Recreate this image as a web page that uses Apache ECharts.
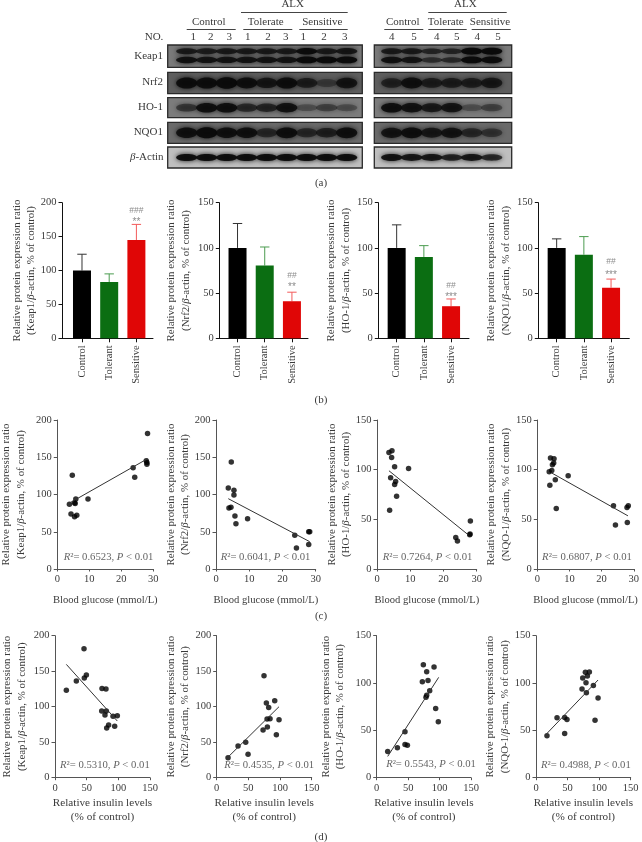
<!DOCTYPE html>
<html><head><meta charset="utf-8">
<style>html,body{margin:0;padding:0;background:#fff}#c{width:642px;height:842px}</style>
<script src="https://cdn.jsdelivr.net/npm/echarts@6/dist/echarts.min.js"></script>
</head><body><div id="c"></div>
<script>
// ---------- data ----------
const barCategories = ['Control','Tolerant','Sensitive'];
const barColors = ['#000000','#0b6e12','#e00606'];
const errColors = ['#333333','#4c9c50','#f25a5a'];
const keap1Bars=[100,83,145], keap1Err=[124,95,168];
const nrf2Bars=[100,80.5,41], nrf2Err=[127,101,51];
const ho1Bars=[100,90,35.5], ho1Err=[125.5,102.5,43.5];
const nqo1Bars=[100,92.5,56], nqo1Err=[110,112.5,65.5];
const keap1Marks=[['###',189],['**',175]];
const nrf2Marks=[['##',69],['**',59.7]];
const ho1Marks=[['##',58],['***',48.7]];
const nqo1Marks=[['##',85],['***',73]];

const glucoseKeap1=[[3.8,86.8],[4.3,73.8],[4.7,125.7],[5.4,89],[5.4,70],[5.8,94],[5.6,88],[6.1,72],[9.6,94],[23.7,136],[24.2,123],[27.8,145.4],[28,140.5],[28,143],[28.2,182]];
const glucoseNrf2=[[3.7,108.7],[3.9,81.9],[4.5,82.8],[4.6,143.6],[5.4,105.6],[5.4,99.3],[5.7,71],[6,60.9],[9.5,67.6],[23.7,45.2],[24.2,28.2],[27.9,33],[27.9,50],[28.2,50]];
const glucoseHo1=[[3.6,117.4],[4.5,119],[4.4,112.3],[4.1,91.8],[3.8,59.2],[5.3,102.9],[5.6,88.1],[5.3,85.1],[5.9,73.3],[9.5,101.2],[23.7,31.6],[24.2,28.3],[27.9,34.6],[28.1,48.4],[28,35.3]];
const glucoseNqo1=[[3.7,97.9],[3.9,84.4],[4.1,111.7],[4.5,99.2],[4.7,104.9],[5.2,111],[5.1,106.6],[5.6,89.8],[5.9,60.9],[9.6,93.8],[23.7,63.6],[24.3,44.4],[28,46.8],[27.9,61.9],[28.3,63.6]];
const glucoseFits=[[[3.8,88.5],[28.2,148]],[[3.7,94.4],[28.2,36.7]],[[3.6,98.9],[27.5,34.3]],[[4.3,97],[28.2,53.5]]];
const glucoseStats=['0.6523','0.6041','0.7264','0.6807'];

const insulinKeap1=[[17.9,123],[33.7,136.2],[45.8,181.7],[46.3,140.4],[49.5,144.6],[74.2,125.8],[80.5,124.9],[73.7,93.9],[81,93.9],[78.9,88.3],[91.6,86.4],[98.4,87.3],[81.6,70],[84.7,74.2],[94.2,72.3]];
const insulinNrf2=[[17.9,28.2],[33.7,44.6],[45.8,49.8],[49.5,32.9],[74.7,143.7],[78.4,105.2],[82.1,99],[91.6,108.5],[79.5,82.6],[84.2,83.1],[98.4,81.7],[73.2,67.1],[80,71.4],[94.2,60.6]];
const insulinHo1=[[17.5,27.8],[32.9,31.7],[45,48.6],[45,35.2],[48.8,34.2],[72.6,101.4],[74.2,119.4],[79.5,112],[81.6,102.8],[91.2,116.9],[78.4,84.9],[79.5,87],[84.3,91.9],[93.8,73.2],[98,59.2]];
const insulinNqo1=[[17.4,44.4],[33.3,63.4],[45.4,46.8],[45.4,63.7],[49.1,61.6],[72.9,93.7],[74,105.3],[78.2,111.3],[79.2,100.4],[79.8,89.8],[81.4,107.4],[84.5,111.6],[90.9,97.5],[93.5,60.6],[98.3,84.2]];
const insulinFits=[[[17.9,159.6],[98.4,79.8]],[[17.9,29],[98.4,100]],[[17.5,22.5],[98.6,106]],[[17.4,46.8],[98.3,103.2]]];
const insulinStats=['0.5310','0.4535','0.5543','0.4988'];

const blotRows=['Keap1','Nrf2','HO-1','NQO1'];
const laneHeaders=['1','2','3','1','2','3','1','2','3'];
const laneHeadersRight=['4','5','4','5','4','5'];
const leftKeap1Upper=[.75,.7,.75,.75,.75,.75,.95,.75,.8], leftKeap1Lower=[.88,.82,.82,.82,.82,.82,1,1,1];
const leftNrf2=[.9,.9,.98,.85,.72,.9,.6,.25,.78], leftHo1=[.42,.9,.9,.55,.6,.85,.2,.32,.22];
const leftNqo1=[.85,.98,.85,.85,.5,.9,.5,.6,.9], leftActin=[.95,.95,.95,.95,.95,.95,.95,.95,.95];
const rightKeap1Upper=[.75,.75,.6,.6,1,1], rightKeap1Lower=[.88,.82,.5,.55,1,.95];
const rightNrf2=[.55,.85,.6,.6,.6,.7], rightHo1=[.9,.85,.72,.8,.2,.32];
const rightNqo1=[.8,.9,.72,.8,.5,.38], rightActin=[.9,.85,.85,.75,.85,.7];

// ---------- helpers ----------
const FONT='"Liberation Serif",serif', INK='#3a3a3a';
const grids=[],xAxes=[],yAxes=[],series=[],graphic=[];
function addGrid(g,x,y){grids.push(g);x.gridIndex=y.gridIndex=grids.length-1;xAxes.push(x);yAxes.push(y);return grids.length-1;}
const nameRich={n:{fontFamily:FONT,fontSize:10.9,color:INK,lineHeight:14.5},i:{fontFamily:FONT,fontStyle:'italic',fontSize:10.9,color:INK,lineHeight:14.5}};
const yName=t=>`{n|Relative protein expression ratio}\n{n|(${t}/}{i|β}{n|-actin, % of control)}`;
const lbl={fontFamily:FONT,fontSize:10.5,color:INK};
function yAxisOf(max,name,gap,col){return {type:'value',min:0,max,interval:50,name:yName(name),nameLocation:'middle',nameGap:gap,
  nameTextStyle:{rich:nameRich},axisLine:{show:true,onZero:false,lineStyle:{color:col,width:1}},axisTick:{show:true,length:3.5,lineStyle:{color:col,width:1}},
  axisLabel:{...lbl,margin:5.5},splitLine:{show:false}};}

function barPanel(left,width,min,max,ymax,target,gap,vals,errs,marks){
  const i=addGrid({left,top:202.7,width,height:135.6},
   {type:'value',min,max:min+width/27.2,axisLine:{show:true,onZero:false,lineStyle:{color:'#111',width:1}},axisTick:{show:true,length:4,customValues:[0,1,2],lineStyle:{color:'#111'}},
    axisLabel:{...lbl,rotate:90,margin:7,customValues:[0,1,2],formatter:v=>barCategories[v]||''},splitLine:{show:false}},
   yAxisOf(ymax,target,gap,'#111'));
  series.push({type:'bar',xAxisIndex:i,yAxisIndex:i,barWidth:18,data:vals.map((v,k)=>({value:[k,v],itemStyle:{color:barColors[k]}})),silent:true,animation:false});
  series.push({type:'custom',xAxisIndex:i,yAxisIndex:i,data:vals.map((v,k)=>[k,v,errs[k]]),animation:false,silent:true,
    renderItem(p,api){const k=api.value(0),a=api.coord([k,api.value(1)]),b=api.coord([k,api.value(2)]);
      const st={stroke:errColors[k],lineWidth:1,fill:null};
      return {type:'group',children:[{type:'line',shape:{x1:a[0],y1:a[1],x2:b[0],y2:b[1]},style:st},{type:'line',shape:{x1:b[0]-4.7,y1:b[1],x2:b[0]+4.7,y2:b[1]},style:st}]};}});
  series.push({type:'scatter',xAxisIndex:i,yAxisIndex:i,symbolSize:0,silent:true,animation:false,
    data:marks.map(m=>({value:[2,m[1]],label:{show:true,position:'inside',formatter:m[0],offset:m[0][0]==='*'?[0,2.5]:[0,0],fontFamily:'"Liberation Sans",sans-serif',fontSize:m[0][0]==='*'?10:8.5,color:'#6e6e6e'}}))});
}
barPanel(62,91,-0.735,0,200,'Keap1',23,keap1Bars,keap1Err,keap1Marks);
barPanel(219.3,88.7,-0.67,0,150,'Nrf2',26,nrf2Bars,nrf2Err,nrf2Marks);
barPanel(378.3,90.7,-0.675,0,150,'HO-1',25,ho1Bars,ho1Err,ho1Marks);
barPanel(538.3,91,-0.675,0,150,'NQO1',25,nqo1Bars,nqo1Err,nqo1Marks);

function scatterPanel(left,width,top,height,xmax,xint,ymax,target,gap,pts,fit,stat,statAt,xname,nameGap,nameSize){
  const i=addGrid({left,top,width,height},
    {type:'value',min:0,max:xmax,interval:xint,name:xname,nameLocation:'middle',nameGap,nameTextStyle:{...lbl,fontSize:nameSize,lineHeight:14},
     axisLine:{show:true,onZero:false,lineStyle:{color:'#555'}},axisTick:{show:true,length:2.5,lineStyle:{color:'#555'}},axisLabel:{...lbl,margin:5},splitLine:{show:false}},
    yAxisOf(ymax,target,gap,'#555'));
  series.push({type:'line',xAxisIndex:i,yAxisIndex:i,data:fit,showSymbol:false,silent:true,animation:false,lineStyle:{color:'#333',width:1},symbol:'none'});
  series.push({type:'scatter',xAxisIndex:i,yAxisIndex:i,data:pts,symbolSize:5.5,silent:true,animation:false,itemStyle:{color:'#000'}});
  series.push({type:'scatter',xAxisIndex:i,yAxisIndex:i,symbolSize:0,silent:true,animation:false,data:[{value:statAt,label:{show:true,position:'right',distance:0,
    formatter:`{i|R}{n|²= ${stat}, }{i|P}{n| < 0.01}`,rich:{n:{fontFamily:FONT,fontSize:10.7,color:INK},i:{fontFamily:FONT,fontSize:10.7,fontStyle:'italic',color:INK}}}}]});
}
const GN='Blood glucose (mmol/L)', IN='Relative insulin levels\n(% of control)';
scatterPanel(53.3,100,420,149,30,10,200,'Keap1',29,glucoseKeap1,glucoseFits[0],glucoseStats[0],[2,15.7],GN,24,10.6);
scatterPanel(216,99.7,420,149,30,10,200,'Nrf2',22,glucoseNrf2,glucoseFits[1],glucoseStats[1],[1.4,15.7],GN,24,10.6);
scatterPanel(377,99.7,420,149,30,10,150,'HO-1',23,glucoseHo1,glucoseFits[2],glucoseStats[2],[1.7,11.8],GN,24,10.6);
scatterPanel(537.3,99.3,420,149,30,10,150,'NQO-1',24,glucoseNqo1,glucoseFits[3],glucoseStats[3],[1.5,11.8],GN,24,10.6);
scatterPanel(55,95,635.7,142,150,50,200,'Keap1',26,insulinKeap1,insulinFits[0],insulinStats[0],[7.9,17],IN,18,11.2);
scatterPanel(216.7,95,635.7,142,150,50,200,'Nrf2',24,insulinNrf2,insulinFits[1],insulinStats[1],[12,17],IN,18,11.2);
scatterPanel(376.7,94.3,635.7,142,150,50,150,'HO-1',29,insulinHo1,insulinFits[2],insulinStats[2],[15,14.4],IN,18,11.2);
scatterPanel(536,94.7,635.7,142,150,50,150,'NQO-1',24,insulinNqo1,insulinFits[3],insulinStats[3],[7.9,12.7],IN,18,11.2);

function blotPanel(left,width,top,height,min,bg,bands,ry){
  const i=addGrid({show:true,left,top,width,height,backgroundColor:bg,borderColor:'#2a2a2a',borderWidth:1.3},
    {type:'value',show:false,min,max:min+width/20},{type:'value',show:false,min:0,max:1});
  bands.forEach(([vals,yPos])=>{
    series.push({type:'custom',xAxisIndex:i,yAxisIndex:i,silent:true,animation:false,clip:true,data:vals.map((v,k)=>[k,yPos,v]),
      renderItem(p,api){const c=api.coord([api.value(0),api.value(1)]),v=api.value(2);
        return {type:'ellipse',shape:{cx:c[0],cy:c[1],rx:10.6,ry:ry*(0.6+0.4*v)},
          style:{fill:'#0a0a0a',opacity:0.12+0.85*v,shadowBlur:5,shadowColor:'rgba(0,0,0,0.9)'}};}});
  });
}
const L=[167.7,194.6,-0.95], R=[374.3,137.4,-0.87];
[[L,leftKeap1Upper,leftKeap1Lower,leftNrf2,leftHo1,leftNqo1,leftActin],[R,rightKeap1Upper,rightKeap1Lower,rightNrf2,rightHo1,rightNqo1,rightActin]].forEach(([s,ku,kl,n,h,q,a])=>{
  blotPanel(s[0],s[1],45,22.3,s[2],'#7a7a7a',[[ku,.72],[kl,.33]],3.4);
  blotPanel(s[0],s[1],72.3,21.3,s[2],'#5e5e5e',[[n,.5]],5.8);
  blotPanel(s[0],s[1],97.7,20,s[2],'#7c7c7c',[[h,.5]],5);
  blotPanel(s[0],s[1],122.3,21,s[2],'#6a6a6a',[[q,.5]],5.6);
  blotPanel(s[0],s[1],147,21,s[2],'#bfbfbf',[[a,.5]],3.6);
});

// ---------- layout text ----------
function txt(text,x,y,align,size,extra){graphic.push({type:'text',silent:true,z:100,style:{text,x,y,textAlign:align||'center',textVerticalAlign:'middle',font:`${size||11}px ${FONT}`,fill:INK,...(extra||{})}});}
function rule(x1,x2,y){graphic.push({type:'line',silent:true,z:100,shape:{x1,y1:y,x2,y2:y},style:{stroke:'#444',lineWidth:1}});}
txt('NO.',154,37);
[193.3,210.7,229.3,247.7,268,285.7,303.3,324,344.7].forEach((x,k)=>txt(laneHeaders[k],x,37.3));
[391.7,414,436.7,456.7,477.3,498].forEach((x,k)=>txt(laneHeadersRight[k],x,37.3));
[['Control',208.7,186.7,235.7],['Tolerate',265.7,243.3,292.3],['Sensitive',322.3,299.3,347.7],['Control',402.7,384.3,423.3],['Tolerate',445.7,428.3,466.7],['Sensitive',490,471.7,510.7]]
 .forEach(([t,c,a,b])=>{txt(t,c,22);rule(a,b,29.5);});
txt('ALX',292.7,4.5);rule(241,347.7,12.5);
txt('ALX',465.3,4.5);rule(428.3,506.7,12.5);
[55.7,82.3,107.3,132].forEach((y,k)=>txt(blotRows[k],163,y,'right'));
graphic.push({type:'text',silent:true,z:100,style:{text:'{i|β}{n|-Actin}',x:163.5,y:156.7,textAlign:'right',textVerticalAlign:'middle',
  rich:{i:{fontFamily:FONT,fontSize:11,fontStyle:'italic',fill:INK},n:{fontFamily:FONT,fontSize:11,fill:INK}}}});
[['(a)',182.7],['(b)',400],['(c)',616.5],['(d)',837]].forEach(([t,y])=>txt(t,321,y));

const chart=echarts.init(document.getElementById('c'),null,{renderer:'canvas',width:642,height:842});
chart.setOption({animation:false,backgroundColor:'#fff',grid:grids,xAxis:xAxes,yAxis:yAxes,series,graphic:{elements:graphic}});
</script></body></html>
